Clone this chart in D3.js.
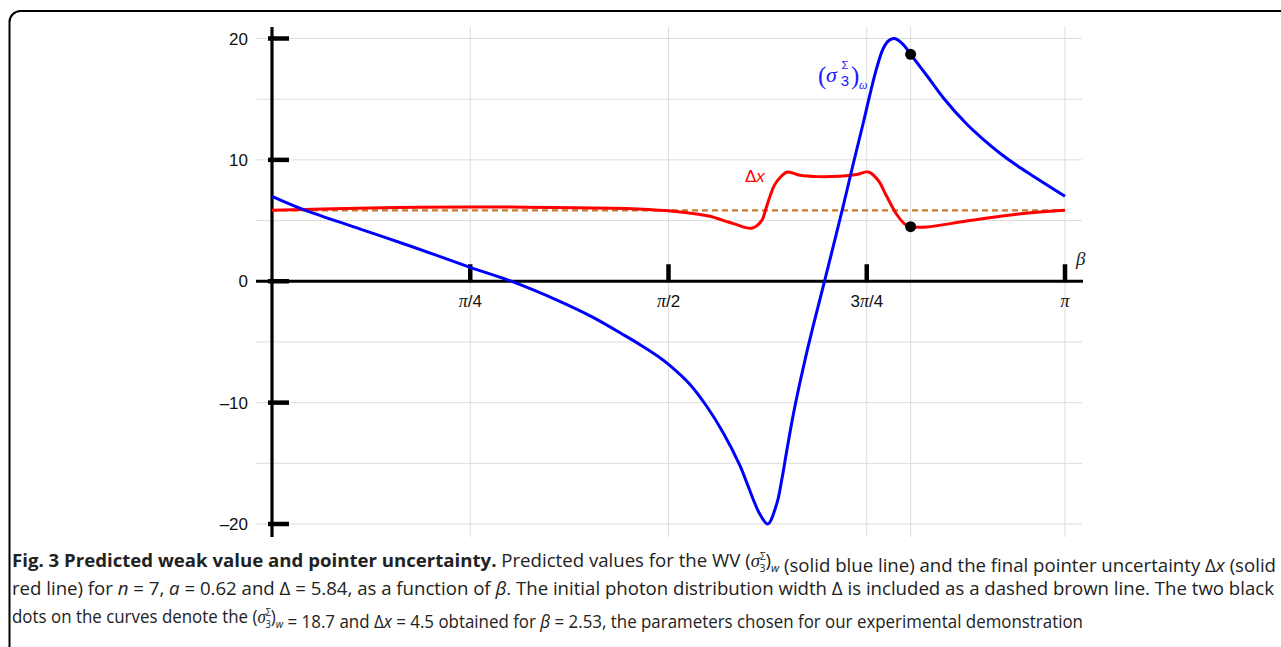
<!DOCTYPE html>
<html>
<head>
<meta charset="utf-8">
<script src="https://cdn.jsdelivr.net/npm/d3@7"></script>
<style>
  body { margin: 0; background: #fff; }
  svg { display: block; }
</style>
</head>
<body>
<div id="fig"></div>
<script>
// values
var yTickValues = [-20, -10, 0, 10, 20];
var yGridValues = [-20, -15, -10, -5, 0, 5, 10, 15, 20];
var betaTickValues = [Math.PI / 4, Math.PI / 2, 3 * Math.PI / 4, Math.PI];
var betaTickLabels = [["", "π", "/4"], ["", "π", "/2"], ["3", "π", "/4"], ["", "π", ""]];
var betaGridValues = [Math.PI / 4, Math.PI / 2, 3 * Math.PI / 4, 2.53, Math.PI];

// weak value (sigma_3)_w, solid blue
var blueBeta = [0, 0.12, 0.35, 0.55, 0.785, 0.955, 1.14, 1.27, 1.40, 1.46, 1.53, 1.571,
  1.656, 1.722, 1.788, 1.854, 1.881, 1.907, 1.933, 1.964, 2.0, 2.02, 2.039, 2.065,
  2.092, 2.118, 2.145, 2.19, 2.263, 2.303, 2.343, 2.369, 2.396, 2.422, 2.445, 2.466,
  2.501, 2.53, 2.594, 2.66, 2.752, 2.82, 2.884, 2.95, 3.016, 3.08, 3.1416];
var blueValue = [7.0, 5.95, 4.3, 2.88, 1.15, -0.05, -1.65, -2.95, -4.5, -5.25, -6.2, -6.85,
  -8.5, -10.3, -12.5, -15.2, -16.6, -18.0, -19.2, -20.0, -18.3, -16.3, -14.0, -11.0,
  -8.3, -5.9, -3.6, 0.1, 6.2, 9.7, 13.1, 15.4, 17.6, 19.2, 19.85, 20.0,
  19.5, 18.7, 16.95, 15.1, 12.95, 11.65, 10.55, 9.55, 8.65, 7.8, 7.0];

// final pointer uncertainty dx, solid red
var redBeta = [0, 0.2, 0.5, 0.787, 1.0, 1.2, 1.405, 1.571, 1.696, 1.735, 1.828, 1.9,
  1.94, 1.957, 1.973, 1.99, 2.013, 2.042, 2.092, 2.158, 2.25, 2.317, 2.363, 2.402,
  2.435, 2.475, 2.508, 2.53, 2.594, 2.752, 2.95, 3.1416];
var redValue = [5.84, 5.95, 6.07, 6.12, 6.1, 6.05, 6.0, 5.8, 5.5, 5.35, 4.75, 4.37,
  5.0, 6.0, 7.0, 7.9, 8.55, 9.0, 8.73, 8.62, 8.65, 8.8, 9.0, 8.3,
  7.0, 5.5, 4.7, 4.5, 4.47, 4.97, 5.52, 5.84];

var initialWidth = 5.84;        // dashed brown line
var markerBeta = 2.53;
var markerValues = [18.7, 4.5];

var captionLines = [
  [["b", "Fig. 3 Predicted weak value and pointer uncertainty."], ["", " Predicted values for the WV "], ["wv"], ["", " (solid blue line) and the final pointer uncertainty Δ"], ["i", "x"], ["", " (solid"]],
  [["", "red line) for "], ["i", "n"], ["", " = 7, "], ["i", "a"], ["", " = 0.62 and Δ = 5.84, as a function of "], ["i", "β"], ["", ". The initial photon distribution width Δ is included as a dashed brown line. The two black"]],
  [["", "dots on the curves denote the "], ["wv"], ["", " = 18.7 and Δ"], ["i", "x"], ["", " = 4.5 obtained for "], ["i", "β"], ["", " = 2.53, the parameters chosen for our experimental demonstration"]]
];
var captionWidths = [1264, 1262, 1071];

var W = 1281, H = 647;

var svg = d3.select("#fig").append("svg")
  .attr("width", W)
  .attr("height", H);

// frame
svg.append("rect")
  .attr("x", 9.5).attr("y", 11)
  .attr("width", 1300).attr("height", 700)
  .attr("rx", 11)
  .attr("fill", "none")
  .attr("stroke", "#000")
  .attr("stroke-width", 2);

var x = d3.scaleLinear().domain([0, Math.PI]).range([272, 1065]);
var y = d3.scaleLinear().domain([-20, 20]).range([524, 38.5]);

var gx0 = 256, gx1 = 1082, gy0 = 27, gy1 = 537;

// grid
var grid = svg.append("g").attr("stroke", "#dcdcdc").attr("stroke-width", 1);
grid.selectAll("line.h").data(yGridValues).enter().append("line")
  .attr("x1", gx0).attr("x2", gx1)
  .attr("y1", d => y(d)).attr("y2", d => y(d));
grid.selectAll("line.v").data(betaGridValues).enter().append("line")
  .attr("y1", gy0).attr("y2", gy1)
  .attr("x1", d => x(d)).attr("x2", d => x(d));

// axes lines
svg.append("line")
  .attr("x1", x(0)).attr("x2", x(0)).attr("y1", gy0).attr("y2", gy1)
  .attr("stroke", "#000").attr("stroke-width", 3.2);
svg.append("line")
  .attr("x1", gx0).attr("x2", gx1 + 1).attr("y1", y(0)).attr("y2", y(0))
  .attr("stroke", "#000").attr("stroke-width", 3.2);

// y ticks + labels
svg.selectAll("line.ytick").data(yTickValues).enter().append("line")
  .attr("x1", x(0) - 4).attr("x2", x(0) + 17)
  .attr("y1", d => y(d)).attr("y2", d => y(d))
  .attr("stroke", "#000").attr("stroke-width", 4.5);

svg.selectAll("text.ylab").data(yTickValues).enter().append("text")
  .attr("x", 248)
  .attr("y", d => y(d) + 6)
  .attr("text-anchor", "end")
  .attr("font-family", "Liberation Sans, Arial, sans-serif")
  .attr("font-size", 17)
  .attr("fill", "#111")
  .text(d => d < 0 ? "\u2013" + Math.abs(d) : d);

// x ticks + labels
svg.selectAll("line.xtick").data(betaTickValues).enter().append("line")
  .attr("x1", d => x(d)).attr("x2", d => x(d))
  .attr("y1", y(0) - 17).attr("y2", y(0) + 1)
  .attr("stroke", "#000").attr("stroke-width", 4.5);

var xl = svg.selectAll("text.xlab").data(betaTickValues).enter().append("text")
  .attr("x", d => x(d))
  .attr("y", y(0) + 26)
  .attr("text-anchor", "middle")
  .attr("font-family", "Liberation Sans, Arial, sans-serif")
  .attr("font-size", 17)
  .attr("fill", "#111");
xl.each(function(d, i) {
  var t = d3.select(this), p = betaTickLabels[i];
  t.append("tspan").text(p[0]);
  t.append("tspan").attr("font-style", "italic").attr("font-family", "Liberation Serif, serif")
    .attr("font-size", 18).text(p[1]);
  t.append("tspan").text(p[2]);
});

svg.append("text")
  .attr("x", 1076).attr("y", 265)
  .attr("font-family", "Liberation Serif, serif")
  .attr("font-style", "italic")
  .attr("font-size", 19)
  .attr("fill", "#222")
  .text("β");

// dashed initial width
svg.append("line")
  .attr("x1", x(0)).attr("x2", x(Math.PI))
  .attr("y1", y(initialWidth)).attr("y2", y(initialWidth))
  .attr("stroke", "#c97a2b").attr("stroke-width", 2.2)
  .attr("stroke-dasharray", "6,4");

var line = d3.line()
  .x(d => x(d[0]))
  .y(d => y(d[1]))
  .curve(d3.curveCatmullRom.alpha(0.5));

svg.append("path")
  .datum(redBeta.map((b, i) => [b, redValue[i]]))
  .attr("d", line)
  .attr("fill", "none")
  .attr("stroke", "#ff0000")
  .attr("stroke-width", 3);

svg.append("path")
  .datum(blueBeta.map((b, i) => [b, blueValue[i]]))
  .attr("d", line)
  .attr("fill", "none")
  .attr("stroke", "#0000ff")
  .attr("stroke-width", 3);

// markers
svg.selectAll("circle.m").data(markerValues).enter().append("circle")
  .attr("cx", x(markerBeta))
  .attr("cy", d => y(d))
  .attr("r", 5.5)
  .attr("fill", "#000");

// curve labels
svg.append("text")
  .attr("x", 745).attr("y", 182)
  .attr("font-family", "Liberation Sans, Arial, sans-serif")
  .attr("font-size", 17)
  .attr("fill", "#ff0000")
  .call(t => {
    t.append("tspan").text("Δ");
    t.append("tspan").attr("font-style", "italic").text("x");
  });

var bl = svg.append("g").attr("fill", "#1a1aff");
bl.append("text").attr("x", 818).attr("y", 84).attr("font-family", "Liberation Serif, serif")
  .attr("font-size", 25).text("(");
bl.append("text").attr("x", 826).attr("y", 82).attr("font-family", "Liberation Serif, serif")
  .attr("font-style", "italic").attr("font-size", 22).text("σ");
bl.append("text").attr("x", 845).attr("y", 69).attr("text-anchor", "middle")
  .attr("font-family", "Liberation Sans, Arial, sans-serif").attr("font-size", 11).text("Σ");
bl.append("text").attr("x", 845).attr("y", 86).attr("text-anchor", "middle")
  .attr("font-family", "Liberation Sans, Arial, sans-serif").attr("font-size", 15).text("3");
bl.append("text").attr("x", 851).attr("y", 84).attr("font-family", "Liberation Serif, serif")
  .attr("font-size", 25).text(")");
bl.append("text").attr("x", 859).attr("y", 89).attr("font-family", "Liberation Serif, serif")
  .attr("font-style", "italic").attr("font-size", 12).text("ω");

// caption
var capY = [567, 595, 623];
captionLines.forEach(function(parts, li) {
  var t = svg.append("text")
    .attr("x", 12).attr("y", capY[li])
    .attr("font-family", "Open Sans, sans-serif")
    .attr("font-size", 18)
    .attr("fill", "#222")
    .attr("textLength", captionWidths[li])
    .attr("lengthAdjust", "spacingAndGlyphs");
  parts.forEach(function(p) {
    if (p[0] === "wv") {
      t.append("tspan").text("(");
      t.append("tspan").attr("font-style", "italic").attr("font-family", "Liberation Serif, serif").text("σ");
      t.append("tspan").attr("font-size", 10).attr("dy", -7).text("Σ");
      t.append("tspan").attr("font-size", 10).attr("dx", -6).attr("dy", 12).text("3");
      t.append("tspan").attr("dy", -5).text(")");
      t.append("tspan").attr("font-size", 11).attr("font-style", "italic").attr("dy", 5).text("w");
      t.append("tspan").attr("dy", -5).text("");
    } else {
      var s = t.append("tspan").text(p[1]);
      if (p[0] === "b") s.attr("font-weight", "bold");
      if (p[0] === "i") s.attr("font-style", "italic");
    }
  });
});
</script>
</body>
</html>
